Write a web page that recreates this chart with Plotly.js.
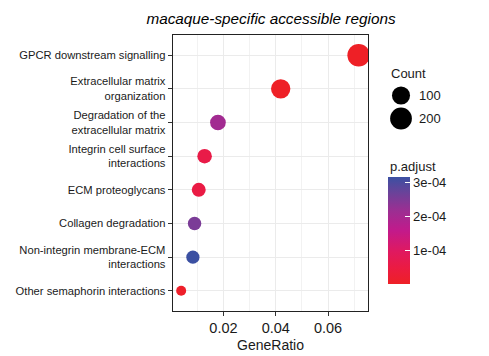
<!DOCTYPE html>
<html>
<head>
<meta charset="utf-8">
<script src="https://cdn.plot.ly/plotly-3.0.1.min.js"></script>
<style>
  html, body { margin: 0; padding: 0; background: #fff; }
  #chart { width: 489px; height: 356px; }
</style>
</head>
<body>
<div id="chart"></div>
<script>
// Reactome pathways enriched among macaque-specific accessible regions
const terms = [
  'GPCR downstream signalling',
  'Extracellular matrix<br>organization',
  'Degradation of the<br>extracellular matrix',
  'Integrin cell surface<br>interactions',
  'ECM proteoglycans',
  'Collagen degradation',
  'Non-integrin membrane-ECM<br>interactions',
  'Other semaphorin interactions'
];
const geneRatio = [0.0717, 0.0419, 0.0179, 0.0128, 0.01056, 0.00896, 0.00832, 0.00384];
const geneCount = [224, 131, 56, 40, 33, 28, 26, 12];
const pAdjust   = [8.4e-9, 2.3e-7, 2.05e-4, 5.7e-5, 5.0e-5, 2.5e-4, 3.14e-4, 6.1e-6];

const countBreaks = [100, 200];
const padjTickVals = [1e-4, 2e-4, 3e-4];
const padjTickText = ['1e-04', '2e-04', '3e-04'];

const FONT = 'Liberation Sans, Arial, Helvetica, sans-serif';
const INK = '#1a1a1a';

// point diameter: area grows linearly with the count between the data limits
const cMin = Math.min(...geneCount), cMax = Math.max(...geneCount);
const D_MIN = 10, D_MAX = 22.5;
function dotSize(c) {
  const t = Math.max(0, (c - cMin) / (cMax - cMin));
  return D_MIN + (D_MAX - D_MIN) * Math.sqrt(t);
}

const redBlue = [
  [0.00, '#EE2026'],
  [0.15, '#EB1B42'],
  [0.30, '#E0195F'],
  [0.50, '#C21A8B'],
  [0.70, '#983093'],
  [0.85, '#6B4299'],
  [1.00, '#3B50A2']
];

// colour bar geometry (paper units of the plot area, which is 469 x 276 px)
const PLOT_W = 469, PLOT_H = 276;
const CB_X = 0.806, CB_Y = 0.2899, CB_LEN = 107, CB_THICK = 22;

const dots = {
  type: 'scatter',
  mode: 'markers',
  x: geneRatio,
  y: terms,
  xaxis: 'x', yaxis: 'y',
  hoverinfo: 'skip',
  showlegend: false,
  marker: {
    size: geneCount.map(dotSize),
    sizemode: 'diameter',
    color: pAdjust,
    colorscale: redBlue,
    line: { width: 0 },
    opacity: 1,
    showscale: true,
    colorbar: {
      x: CB_X, xanchor: 'left', xpad: 0,
      y: CB_Y, yanchor: 'middle', ypad: 0,
      len: CB_LEN, lenmode: 'pixels',
      thickness: CB_THICK, thicknessmode: 'pixels',
      outlinewidth: 0,
      tickmode: 'array',
      tickvals: padjTickVals,
      ticktext: padjTickText,
      ticks: 'inside', ticklen: 5, tickwidth: 1, tickcolor: '#ffffff',
      tickfont: { family: FONT, size: 13, color: INK }
    }
  }
};

// size key for the Count legend
const sizeKey = {
  type: 'scatter',
  mode: 'markers',
  x: countBreaks.map(() => 0),
  y: countBreaks.map(String),
  xaxis: 'x2', yaxis: 'y2',
  hoverinfo: 'skip',
  showlegend: false,
  marker: { size: countBreaks.map(dotSize), color: '#000000', opacity: 1, line: { width: 0 } }
};

// white tick marks on the left edge of the colour bar as well
const pMin = Math.min(...pAdjust), pMax = Math.max(...pAdjust);
const cbBottom = CB_Y - (CB_LEN / 2) / PLOT_H;
const cbTop = CB_Y + (CB_LEN / 2) / PLOT_H;
const leftTicks = padjTickVals.map(v => {
  const yy = cbBottom + (v - pMin) / (pMax - pMin) * (cbTop - cbBottom);
  return {
    type: 'line', xref: 'paper', yref: 'paper',
    x0: CB_X, x1: CB_X + 5 / PLOT_W, y0: yy, y1: yy,
    line: { color: '#ffffff', width: 1 }, layer: 'above'
  };
});

const layout = {
  width: 489, height: 356,
  margin: { l: 10, r: 10, t: 35, b: 45 },
  paper_bgcolor: '#ffffff',
  plot_bgcolor: 'rgba(0,0,0,0)',
  font: { family: FONT, color: INK },
  showlegend: false,
  title: {
    text: 'macaque-specific accessible regions',
    font: { family: FONT, size: 15.3, color: '#000000', style: 'italic' },
    x: 0.5565, xref: 'paper', xanchor: 'center',
    y: 0.9466, yref: 'container', yanchor: 'middle'
  },
  xaxis: {
    domain: [0.3469, 0.7640],
    range: [0.0006, 0.0754],
    autorange: false,
    tickvals: [0.02, 0.04, 0.06],
    ticktext: ['0.02', '0.04', '0.06'],
    ticks: 'outside', ticklen: 4, tickwidth: 1, tickcolor: '#333333',
    tickfont: { family: FONT, size: 14.5, color: INK },
    showgrid: true, gridcolor: '#EBEBEB', gridwidth: 1,
    minor: { dtick: 0.01, tick0: 0, showgrid: true, gridcolor: '#F2F2F2', gridwidth: 1 },
    zeroline: false,
    showline: true, mirror: true, linecolor: '#222222', linewidth: 1,
    title: { text: 'GeneRatio', font: { family: FONT, size: 14, color: INK }, standoff: 4 },
    automargin: false,
    fixedrange: true
  },
  yaxis: {
    domain: [0, 1],
    type: 'category',
    categoryorder: 'array',
    categoryarray: terms,
    range: [7.6, -0.6],
    autorange: false,
    ticks: 'outside', ticklen: 4, tickwidth: 1, tickcolor: '#333333',
    tickfont: { family: FONT, size: 11.2, color: INK },
    showgrid: true, gridcolor: '#EBEBEB', gridwidth: 1,
    zeroline: false,
    showline: true, mirror: true, linecolor: '#222222', linewidth: 1,
    automargin: false,
    fixedrange: true
  },
  xaxis2: {
    domain: [0.806, 0.8614],
    anchor: 'y2',
    range: [-1, 1],
    visible: false,
    fixedrange: true
  },
  yaxis2: {
    domain: [0.6558, 0.8225],
    anchor: 'x2',
    side: 'right',
    type: 'category',
    categoryorder: 'array',
    categoryarray: countBreaks.map(String),
    range: [1.5, -0.5],
    autorange: false,
    showgrid: false, zeroline: false, showline: false,
    ticks: '',
    ticklabelstandoff: 4,
    tickfont: { family: FONT, size: 13, color: INK },
    fixedrange: true
  },
  shapes: leftTicks,
  annotations: [
    {
      text: 'Count', xref: 'paper', yref: 'paper',
      x: 0.808, y: 0.862, xanchor: 'left', yanchor: 'middle',
      showarrow: false, font: { family: FONT, size: 13, color: INK }
    },
    {
      text: 'p.adjust', xref: 'paper', yref: 'paper',
      x: 0.806, y: 0.5228, xanchor: 'left', yanchor: 'middle',
      showarrow: false, font: { family: FONT, size: 13, color: INK }
    }
  ]
};

Plotly.newPlot('chart', [dots, sizeKey], layout, { staticPlot: true, displayModeBar: false });
</script>
</body>
</html>
